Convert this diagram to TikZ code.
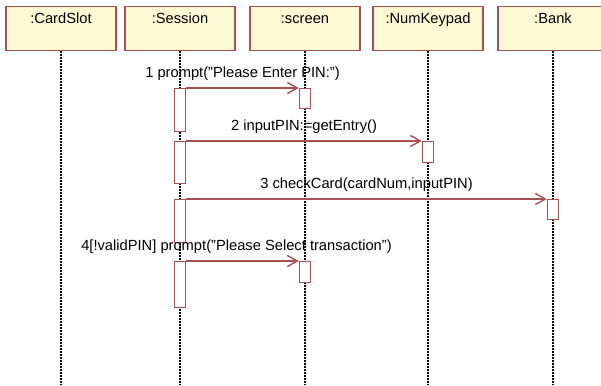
\documentclass[tikz,border=0pt]{standalone}
\usepackage{fontspec}
\setmainfont{Liberation Sans}
\usetikzlibrary{arrows.meta,positioning}

\definecolor{objfill}{HTML}{FFF9D6}
\definecolor{umlred}{HTML}{A65252}

\begin{document}
\begin{tikzpicture}[
  x=1pt, y=-1pt,
  font=\fontsize{14.7}{16}\selectfont,
  obj/.style={draw=umlred, fill=objfill, line width=1.4pt, minimum width=110pt,
    inner xsep=0pt, inner ysep=4pt, text height=13pt, text depth=23pt, anchor=north},
  act/.style={draw=umlred, fill=white, line width=1.4pt, minimum width=11pt,
    inner sep=0pt, anchor=north},
  lifeline/.style={line width=1.2pt, dash pattern=on 1.5pt off 1.5pt},
  msg/.style={draw=umlred, line width=1.4pt,
    -{Straight Barb[length=10pt,width=11pt,line width=1.4pt]}},
  lbl/.style={above=4pt, inner sep=3pt}
]
  \clip (0,0) rectangle (601,385);
  \coordinate (bottom) at (0,385);

  % Objects
  \node[obj] (cardslot) at (61,6) {:CardSlot};
  \node[obj] (session) at (180,6) {:Session};
  \node[obj] (screen) at (305,6) {:screen};
  \node[obj] (keypad) at (428,6) {:NumKeypad};
  \node[obj] (bank) at (553,6) {:Bank};

  % Lifelines
  \foreach \o in {cardslot,session,screen,keypad,bank}
    \draw[lifeline] (\o.south) -- (\o.south |- bottom);

  % Activations of Session
  \node[act, minimum height=43pt] (s1) at (180,88) {};
  \node[act, minimum height=42pt] (s2) at (180,141) {};
  \node[act, minimum height=43pt] (s3) at (180,199) {};
  \node[act, minimum height=46pt] (s4) at (180,261) {};

  % Activations of receivers
  \node[act, minimum height=20pt] (t1) at (305,88) {};
  \node[act, minimum height=21pt] (t2) at (428,141) {};
  \node[act, minimum height=20pt] (t3) at (553,199) {};
  \node[act, minimum height=21pt] (t4) at (305,261) {};

  % Messages
  \draw[msg] (s1.north east) -- (t1.north west)
    node[midway, lbl] {1 prompt("Please Enter PIN:")};
  \draw[msg] (s2.north east) -- (t2.north west)
    node[midway, lbl] {2 inputPIN:=getEntry()};
  \draw[msg] (s3.north east) -- (t3.north west)
    node[midway, lbl] {3 checkCard(cardNum,inputPIN)};
  \draw[msg] (s4.north east) -- (t4.north west)
    node[midway, lbl, xshift=-6pt] {4[!validPIN] prompt("Please Select transaction")};
\end{tikzpicture}
\end{document}
